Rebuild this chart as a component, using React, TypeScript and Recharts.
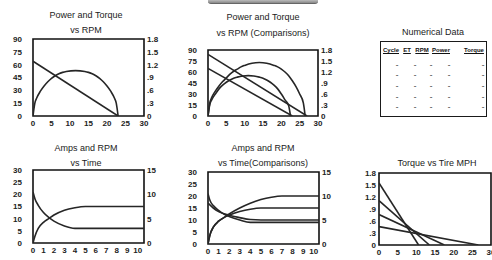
import React from 'react';
import { LineChart, Line, XAxis, YAxis, ReferenceArea } from 'recharts';

type Pt = { x: number; y: number };

// axis ticks
const rpmTicks = [0, 5, 10, 15, 20, 25, 30];
const powerTicks = [0, 15, 30, 45, 60, 75, 90];
const torqueTicks = [0, 0.3, 0.6, 0.9, 1.2, 1.5, 1.8];
const timeTicks = [0, 1, 2, 3, 4, 5, 6, 7, 8, 9, 10];
const ampsTicks = [0, 5, 10, 15, 20, 25, 30];
const rpmRightTicks = [0, 5, 10, 15];

// Power and Torque vs RPM (torque read on the right axis)
const torqueX = [0, 23];
const torqueY = [1.28, 0];
const powerX = [0, 0.5, 1, 2, 3, 4, 5, 6, 7, 8, 9, 11.5, 14, 15, 16, 17, 18, 19, 20, 21, 22, 22.5, 23];
const powerY = [0, 15, 21, 29, 35, 40, 44, 47, 49.5, 51, 52, 53, 52, 51, 49.5, 47, 44, 40, 35, 29, 21, 15, 0];

// Power and Torque vs RPM (Comparisons)
const cmpTorqueAX = [0, 27];
const cmpTorqueAY = [1.68, 0];
const cmpTorqueBX = [0, 23];
const cmpTorqueBY = [1.3, 0];
const cmpPowerAX = [0, 0.5, 1, 2, 3, 4, 5, 6, 7, 8, 9, 10, 12, 14, 16, 18, 19, 20, 21, 22, 23, 24, 25, 26, 26.5];
const cmpPowerAY = [0, 18, 25, 34, 41, 47, 52, 57, 61, 64, 67, 69, 72, 73, 72, 69, 67, 64, 60, 55, 48, 40, 30, 18, 0];
const cmpPowerBX = [0, 0.5, 1, 2, 3, 4, 5, 6, 7, 8, 9.5, 11, 12.5, 14, 15, 16, 17, 18, 19, 20, 21, 22, 22.5];
const cmpPowerBY = [0, 16, 22, 30, 37, 42, 46, 49, 51.5, 53, 54.5, 55, 54.5, 53, 51.5, 49, 46, 42, 37, 30, 22, 14, 0];

// Amps and RPM vs Time (RPM read on the right axis)
const ampsX = [0, 0.2, 0.5, 1, 1.5, 2, 3, 4, 5, 10.6];
const ampsY = [21, 18, 15.5, 12.5, 10.5, 9, 7, 6, 6, 6];
const rpmX = [0, 0.2, 0.5, 1, 1.5, 2, 3, 4, 5, 10.6];
const rpmY = [0, 1.5, 3, 4.25, 5, 5.75, 6.75, 7.25, 7.5, 7.5];

// Amps and RPM vs Time (Comparisons)
const cmpRpmAX = [0, 0.2, 0.5, 1, 1.5, 2, 3, 4, 5, 6, 7, 10.5];
const cmpRpmAY = [0, 2, 3.5, 4.75, 5.5, 6.25, 7.5, 8.5, 9.25, 9.75, 10, 10];
const cmpRpmBX = [0, 0.2, 0.5, 1, 1.5, 2, 3, 4, 5, 10.5];
const cmpRpmBY = [0, 2, 3.5, 4.75, 5.5, 6, 6.75, 7.25, 7.5, 7.5];
const cmpAmpsAX = [0, 0.2, 0.5, 1, 1.5, 2, 3, 4, 10.5];
const cmpAmpsAY = [21, 18, 16, 14, 12.5, 11.5, 10, 9, 9];
const cmpAmpsBX = [0, 0.5, 1, 2, 3, 4, 5, 10.5];
const cmpAmpsBY = [17, 15, 13.5, 12, 11, 10.2, 10, 10];

// Torque vs Tire MPH
const tireAX = [0, 10.6];
const tireAY = [1.55, 0];
const tireBX = [0, 13.5];
const tireBY = [1.11, 0];
const tireCX = [0, 17.5];
const tireCY = [0.76, 0];
const tireDX = [0, 26.6];
const tireDY = [0.46, 0];

// Numerical Data table
const tableHeaders = ['Cycle', 'ET', 'RPM', 'Power', 'Torque'];
const tableRows = [
  ['-', '-', '-', '-', '-'],
  ['-', '-', '-', '-', '-'],
  ['-', '-', '-', '-', '-'],
  ['-', '-', '-', '-', '-'],
  ['-', '-', '-', '-', '-'],
];

const pts = (xs: number[], ys: number[]): Pt[] => xs.map((x, i) => ({ x, y: ys[i] }));

const font = '"Liberation Sans", Arial, Helvetica, sans-serif';
const tickStyle = { fontSize: 8, fontWeight: 700, fill: '#222', fontFamily: font };
const ink = '#262626';

const decimal = (v: number) => (v > 0 && v < 1 ? String(v).replace(/^0/, '') : String(v));

type Series = { data: Pt[]; curved?: boolean; axis?: 'left' | 'right' };

interface PanelProps {
  left: number;
  top: number;
  width: number;
  height: number;
  xDomain: [number, number];
  xTicks: number[];
  yDomain: [number, number];
  yTicks: number[];
  yFormat?: (v: number) => string;
  yMargin: number;
  rDomain?: [number, number];
  rTicks?: number[];
  rFormat?: (v: number) => string;
  rWidth?: number;
  series: Series[];
}

const Panel: React.FC<PanelProps> = (p) => (
  <div style={{ position: 'absolute', left: p.left, top: p.top }}>
    <LineChart width={p.width} height={p.height} margin={{ top: 6, right: p.rTicks ? 0 : 1, left: 0, bottom: 0 }}>
      <XAxis
        dataKey="x"
        type="number"
        domain={p.xDomain}
        ticks={p.xTicks}
        interval={0}
        allowDataOverflow
        axisLine={false}
        tickLine={false}
        tickSize={0}
        tickMargin={4}
        height={16}
        tick={tickStyle}
      />
      <YAxis
        yAxisId="left"
        type="number"
        domain={p.yDomain}
        ticks={p.yTicks}
        interval={0}
        allowDataOverflow
        axisLine={false}
        tickLine={false}
        tickSize={0}
        tickMargin={p.yMargin}
        width={33}
        tick={tickStyle}
        tickFormatter={p.yFormat}
      />
      {p.rTicks && (
        <YAxis
          yAxisId="right"
          orientation="right"
          type="number"
          domain={p.rDomain}
          ticks={p.rTicks}
          interval={0}
          allowDataOverflow
          axisLine={false}
          tickLine={false}
          tickSize={0}
          tickMargin={3}
          width={p.rWidth ?? 20}
          tick={tickStyle}
          tickFormatter={p.rFormat}
        />
      )}
      <ReferenceArea
        yAxisId="left"
        x1={p.xDomain[0]}
        x2={p.xDomain[1]}
        y1={p.yDomain[0]}
        y2={p.yDomain[1]}
        fill="none"
        stroke="#111"
        strokeWidth={1.6}
        ifOverflow="visible"
      />
      {p.series.map((s, i) => (
        <Line
          key={i}
          yAxisId={s.axis ?? 'left'}
          data={s.data}
          dataKey="y"
          type={s.curved ? 'monotone' : 'linear'}
          stroke={ink}
          strokeWidth={1.6}
          dot={false}
          activeDot={false}
          isAnimationActive={false}
        />
      ))}
    </LineChart>
  </div>
);

const Title: React.FC<{ cx: number; cy: number; text: string }> = ({ cx, cy, text }) => (
  <div
    style={{
      position: 'absolute',
      left: cx - 70,
      top: cy - 6,
      width: 140,
      textAlign: 'center',
      fontFamily: font,
      fontSize: 9,
      lineHeight: '12px',
      color: '#222',
      whiteSpace: 'nowrap',
    }}
  >
    {text}
  </div>
);

const headerCenters = [391, 407, 422, 441, 474];
const cellCenters = [397, 415, 431, 449, 483];
const rowTops = [65, 75, 86, 97, 107];

export default function App() {
  return (
    <div
      style={{
        position: 'absolute',
        left: 0,
        top: 0,
        width: 492,
        height: 260,
        background: '#fff',
        overflow: 'hidden',
        fontFamily: font,
      }}
    >
      <style>{'.recharts-surface{overflow:visible}'}</style>

      <div
        style={{
          position: 'absolute',
          left: 208,
          top: 0,
          width: 110,
          height: 3,
          background: 'linear-gradient(#bbb, #888)',
          borderBottom: '1px solid #666',
          borderRadius: '0 0 3px 3px',
        }}
      />

      <Title cx={86} cy={15} text="Power and Torque" />
      <Title cx={86} cy={30} text="vs RPM" />
      <Panel
        left={0}
        top={33}
        width={164}
        height={99}
        xDomain={[0, 30]}
        xTicks={rpmTicks}
        yDomain={[0, 90]}
        yTicks={powerTicks}
        yMargin={11}
        rDomain={[0, 1.8]}
        rTicks={torqueTicks}
        rFormat={decimal}
        series={[
          { data: pts(torqueX, torqueY), axis: 'right' },
          { data: pts(powerX, powerY), curved: true },
        ]}
      />

      <Title cx={263} cy={17} text="Power and Torque" />
      <Title cx={263} cy={33} text="vs RPM (Comparisons)" />
      <Panel
        left={175}
        top={44}
        width={165}
        height={88}
        xDomain={[0, 30]}
        xTicks={rpmTicks}
        yDomain={[0, 90]}
        yTicks={powerTicks}
        yMargin={11}
        rDomain={[0, 1.8]}
        rTicks={torqueTicks}
        rFormat={decimal}
        rWidth={22}
        series={[
          { data: pts(cmpTorqueAX, cmpTorqueAY), axis: 'right' },
          { data: pts(cmpTorqueBX, cmpTorqueBY), axis: 'right' },
          { data: pts(cmpPowerAX, cmpPowerAY), curved: true },
          { data: pts(cmpPowerBX, cmpPowerBY), curved: true },
        ]}
      />

      <Title cx={433} cy={32} text="Numerical Data" />
      <div
        style={{
          position: 'absolute',
          left: 380,
          top: 41,
          width: 105,
          height: 74,
          border: '1.6px solid #1a1a1a',
        }}
      />
      {tableHeaders.map((h, i) => (
        <div
          key={h}
          style={{
            position: 'absolute',
            left: headerCenters[i] - 20,
            top: 46,
            width: 40,
            textAlign: 'center',
            fontSize: 6,
            fontWeight: 700,
            textDecoration: 'underline',
            lineHeight: '9px',
            color: '#111',
          }}
        >
          {h}
        </div>
      ))}
      {tableRows.map((row, r) =>
        row.map((c, i) => (
          <div
            key={`${r}-${i}`}
            style={{
              position: 'absolute',
              left: cellCenters[i] - 10,
              top: rowTops[r] - 5,
              width: 20,
              textAlign: 'center',
              fontSize: 8,
              fontWeight: 700,
              lineHeight: '10px',
              color: '#666',
            }}
          >
            {c}
          </div>
        ))
      )}

      <Title cx={86} cy={148} text="Amps and RPM" />
      <Title cx={86} cy={163} text="vs Time" />
      <Panel
        left={0}
        top={164}
        width={164}
        height={95}
        xDomain={[0, 10.6]}
        xTicks={timeTicks}
        yDomain={[0, 30]}
        yTicks={ampsTicks}
        yMargin={11}
        rDomain={[0, 15]}
        rTicks={rpmRightTicks}
        series={[
          { data: pts(ampsX, ampsY), curved: true },
          { data: pts(rpmX, rpmY), curved: true, axis: 'right' },
        ]}
      />

      <Title cx={263} cy={148} text="Amps and RPM" />
      <Title cx={263} cy={163} text="vs Time(Comparisons)" />
      <Panel
        left={175}
        top={166}
        width={166}
        height={94}
        xDomain={[0, 10.5]}
        xTicks={timeTicks}
        yDomain={[0, 30]}
        yTicks={ampsTicks}
        yMargin={11}
        rDomain={[0, 15]}
        rTicks={rpmRightTicks}
        rWidth={22}
        series={[
          { data: pts(cmpRpmAX, cmpRpmAY), curved: true, axis: 'right' },
          { data: pts(cmpRpmBX, cmpRpmBY), curved: true, axis: 'right' },
          { data: pts(cmpAmpsAX, cmpAmpsAY), curved: true },
          { data: pts(cmpAmpsBX, cmpAmpsBY), curved: true },
        ]}
      />

      <Title cx={437} cy={163} text="Torque vs Tire MPH" />
      <Panel
        left={346}
        top={167}
        width={146}
        height={94}
        xDomain={[0, 30]}
        xTicks={rpmTicks}
        yDomain={[0, 1.8]}
        yTicks={torqueTicks}
        yFormat={decimal}
        yMargin={3}
        series={[
          { data: pts(tireAX, tireAY) },
          { data: pts(tireBX, tireBY) },
          { data: pts(tireCX, tireCY) },
          { data: pts(tireDX, tireDY) },
        ]}
      />
    </div>
  );
}
